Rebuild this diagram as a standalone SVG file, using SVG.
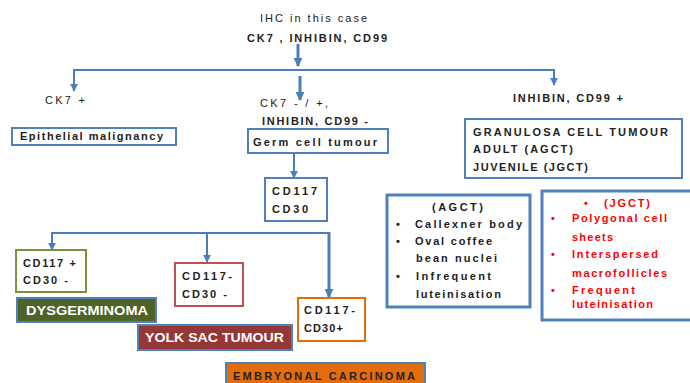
<svg xmlns="http://www.w3.org/2000/svg" width="690" height="383" viewBox="0 0 690 383">
<style>
text{font-family:"Liberation Sans",Arial,sans-serif;font-size:11px;fill:#222}
.b{font-weight:bold}
.box{fill:#fff;stroke:#4f81bd;stroke-width:2}
.thick{fill:#fff;stroke:#4f81bd;stroke-width:3}
.red{fill:#ff0000;font-weight:bold}
.lbl{fill:#fff;font-weight:bold;font-size:12px}
.c{fill:none;stroke:#4a7ebb;stroke-width:2}
.ct{fill:none;stroke:#4a7ebb;stroke-width:3}
</style>
<defs>
<marker id="ah" viewBox="0 0 10 10" refX="9" refY="5" markerWidth="4" markerHeight="4" orient="auto" markerUnits="strokeWidth">
<path d="M0,0 L10,5 L0,10 z" fill="#4a7ebb"/>
</marker>
<marker id="ah2" viewBox="0 0 10 10" refX="9" refY="5" markerWidth="3" markerHeight="3" orient="auto" markerUnits="strokeWidth">
<path d="M0,0 L10,5 L0,10 z" fill="#4a7ebb"/>
</marker>
</defs>
<g id="connectors">
<line class="ct" x1="298" y1="44" x2="298" y2="66" marker-end="url(#ah2)"/>
<polyline class="c" points="74,91 74,70 554,70 554,85" marker-end="url(#ah)"/>
<line class="c" x1="74" y1="72" x2="74" y2="91" marker-end="url(#ah)"/>
<line class="ct" x1="300" y1="76" x2="300" y2="100" marker-end="url(#ah2)"/>
<line class="c" x1="294" y1="153" x2="294" y2="178" marker-end="url(#ah)"/>
<polyline class="c" points="52,250 52,233 329,233"/>
<line class="c" x1="52" y1="235" x2="52" y2="250" marker-end="url(#ah)"/>
<line class="c" x1="207" y1="233" x2="207" y2="262" marker-end="url(#ah)"/>
<line class="ct" x1="329" y1="232" x2="329" y2="297" marker-end="url(#ah2)"/>
</g>
<g id="title">
<text x="260" y="22" textLength="107" lengthAdjust="spacing">IHC in this case</text>
<text x="247" y="42" class="b" textLength="140" lengthAdjust="spacing">CK7 , INHIBIN, CD99</text>
</g>
<g id="ck7pos"><text x="45" y="104" textLength="40" lengthAdjust="spacing">CK7 +</text></g>
<g id="ck7neg">
<text x="260" y="107" textLength="68" lengthAdjust="spacing">CK7 - / +,</text>
<text x="262" y="125" class="b" textLength="106" lengthAdjust="spacing">INHIBIN, CD99 -</text>
</g>
<g id="inhpos"><text x="513" y="102" class="b" textLength="110" lengthAdjust="spacing">INHIBIN, CD99 +</text></g>
<g id="epi">
<rect class="box" x="12" y="128" width="164" height="17"/>
<text x="20" y="140" class="b" textLength="143" lengthAdjust="spacing">Epithelial malignancy</text>
</g>
<g id="germ">
<rect class="box" x="248" y="129" width="140" height="24"/>
<text x="253" y="146" class="b" textLength="124" lengthAdjust="spacing">Germ cell tumour</text>
</g>
<g id="granulosa">
<rect class="box" x="465" y="119" width="217" height="59" stroke-width="2.5"/>
<text x="473" y="136" class="b" textLength="195" lengthAdjust="spacing">GRANULOSA CELL TUMOUR</text>
<text x="473" y="153" class="b" textLength="100" lengthAdjust="spacing">ADULT (AGCT)</text>
<text x="473" y="171" class="b" textLength="115" lengthAdjust="spacing">JUVENILE (JGCT)</text>
</g>
<g id="cd117">
<rect class="box" x="265" y="178" width="62" height="43"/>
<text x="272" y="195" class="b" textLength="45" lengthAdjust="spacing">CD117</text>
<text x="272" y="213" class="b" textLength="36" lengthAdjust="spacing">CD30</text>
</g>
<g id="agct">
<rect class="thick" x="387" y="195" width="143" height="112"/>
<text x="432" y="211" class="b" textLength="51" lengthAdjust="spacing">(AGCT)</text>
<text x="396" y="228" class="b">•</text><text x="415" y="228" class="b" textLength="107" lengthAdjust="spacing">Callexner body</text>
<text x="396" y="245" class="b">•</text><text x="415" y="245" class="b" textLength="77" lengthAdjust="spacing">Oval coffee</text>
<text x="416" y="262" class="b" textLength="81" lengthAdjust="spacing">bean nuclei</text>
<text x="396" y="280" class="b">•</text><text x="416" y="280" class="b" textLength="75" lengthAdjust="spacing">Infrequent</text>
<text x="416" y="298" class="b" textLength="85" lengthAdjust="spacing">luteinisation</text>
</g>
<g id="jgct">
<rect class="thick" x="542" y="191" width="150" height="129"/>
<text x="584" y="207" class="red">•</text><text x="604" y="207" class="red" textLength="46" lengthAdjust="spacing">(JGCT)</text>
<text x="551" y="222" class="red">•</text><text x="572" y="222" class="red" textLength="95" lengthAdjust="spacing">Polygonal cell</text>
<text x="572" y="241" class="red" textLength="41" lengthAdjust="spacing">sheets</text>
<text x="551" y="258" class="red">•</text><text x="572" y="258" class="red" textLength="86" lengthAdjust="spacing">Interspersed</text>
<text x="572" y="277" class="red" textLength="95" lengthAdjust="spacing">macrofollicles</text>
<text x="551" y="294" class="red">•</text><text x="572" y="294" class="red" textLength="63" lengthAdjust="spacing">Frequent</text>
<text x="572" y="308" class="red" textLength="81" lengthAdjust="spacing">luteinisation</text>
</g>
<g id="cdpn">
<rect x="16" y="250" width="70" height="42" fill="#fff" stroke="#77933c" stroke-width="2"/>
<text x="23" y="267" class="b" textLength="53" lengthAdjust="spacing">CD117 +</text>
<text x="23" y="284" class="b" textLength="45" lengthAdjust="spacing">CD30 -</text>
</g>
<g id="cdnn">
<rect x="175" y="263" width="68" height="43" fill="#fff" stroke="#c0504d" stroke-width="2"/>
<text x="182" y="280" class="b" textLength="50" lengthAdjust="spacing">CD117-</text>
<text x="182" y="298" class="b" textLength="45" lengthAdjust="spacing">CD30 -</text>
</g>
<g id="cdnp">
<rect x="298" y="298" width="67" height="43" fill="#fff" stroke="#e46c0a" stroke-width="2"/>
<text x="304" y="314" class="b" textLength="51" lengthAdjust="spacing">CD117-</text>
<text x="304" y="332" class="b" textLength="39" lengthAdjust="spacing">CD30+</text>
</g>
<g id="dysgerminoma">
<rect x="17" y="298" width="139" height="24" fill="#4f6228" stroke="#4f81bd" stroke-width="2"/>
<text x="26" y="315" class="lbl" textLength="122" lengthAdjust="spacingAndGlyphs">DYSGERMINOMA</text>
</g>
<g id="yolksac">
<rect x="138" y="325" width="154" height="25" fill="#953735" stroke="#4f81bd" stroke-width="2"/>
<text x="145" y="342" class="lbl" textLength="139" lengthAdjust="spacingAndGlyphs">YOLK SAC TUMOUR</text>
</g>
<g id="embryonal">
<rect x="226" y="363" width="199" height="26" fill="#e46c0a" stroke="#4f81bd" stroke-width="2"/>
<text x="233" y="380" class="b" style="fill:#222" textLength="182" lengthAdjust="spacing">EMBRYONAL CARCINOMA</text>
</g>
</svg>
